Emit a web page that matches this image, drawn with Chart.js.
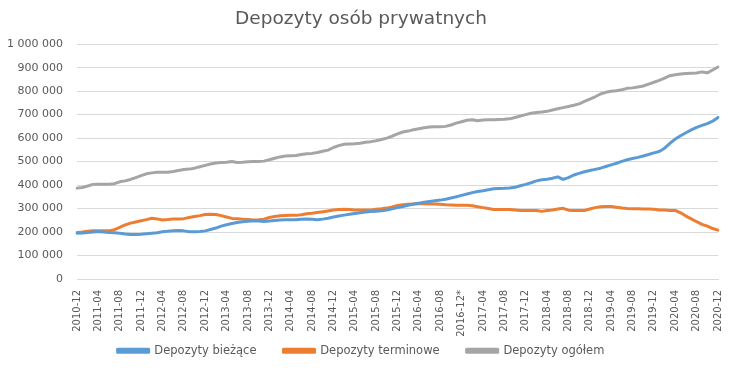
<!DOCTYPE html>
<html>
<head>
<meta charset="utf-8">
<script src="https://cdn.jsdelivr.net/npm/chart.js@4"></script>
<style>
  body { margin: 0; background: #fff; }
  #wrap { width: 739px; height: 372px; }
</style>
</head>
<body>
<div id="wrap"><canvas id="myChart"></canvas></div>
<script>
// monthly labels 2010-12 .. 2020-12 (2016-12 marked with *)
const months = [];
for (let y = 2010; y <= 2020; y++) {
  for (let m = 1; m <= 12; m++) {
    if (y === 2010 && m < 12) continue;
    let s = y + '-' + String(m).padStart(2, '0');
    if (s === '2016-12') s += '*';
    months.push(s);
  }
}

// values in thousands of PLN
const biezace = [
  195, 196, 198, 200, 202, 200, 198, 197, 195, 192, 190, 190,
  191, 193, 195, 197, 201, 203, 205, 207, 205, 201, 201, 202,
  205, 211, 217, 225, 231, 236, 241, 244, 246, 248, 247, 245,
  247, 249, 251, 252, 252, 252, 254, 256, 254, 252, 255, 259,
  264, 268, 272, 276, 279, 282, 285, 287, 289, 291, 294, 299,
  304, 309, 314, 319, 323, 327, 330, 333, 336, 340, 345, 350,
  356, 362, 368, 373, 376, 380, 384, 385, 386, 388, 391, 397,
  403, 410, 418, 423, 425, 429, 435, 424, 432, 443, 450, 457,
  462, 467, 472, 479, 486, 493, 501, 508, 513, 518, 524, 530,
  537, 543, 557, 578, 596, 610, 623, 635, 646, 654, 662, 672,
  688
];
const terminowe = [
  198, 200, 203, 206, 206, 206, 205, 210, 220, 230, 238, 243,
  248, 253, 259, 256, 251, 253, 256, 256, 257, 262, 266, 270,
  275, 276, 275, 270, 264, 258, 257, 255, 253, 251, 252, 255,
  262, 266, 269, 270, 271, 271, 274, 278, 280, 283, 286, 290,
  294, 296, 297, 296, 294, 294, 294, 294, 297, 299, 302, 307,
  313, 316, 318, 319, 320, 320, 319, 319, 318, 316, 315, 314,
  314, 314, 312, 308, 304, 300, 296, 296, 296, 296, 294, 292,
  292, 292, 292, 288, 292, 294, 298, 301, 293, 292, 292, 292,
  298, 304, 308, 309, 309, 306, 302, 300, 299, 299, 298, 298,
  297, 294, 294, 292, 292, 282, 268, 256, 244, 233, 225, 215,
  208
];
const ogolem = [
  387, 390, 396, 403, 404, 404, 404, 406, 414, 418, 424, 432,
  440, 448, 452, 455, 455, 455, 458, 462, 466, 468, 472, 478,
  484, 490, 494, 496, 497, 500, 496, 497, 499, 500, 500, 502,
  508, 514, 520, 524, 525, 526, 530, 533, 535, 539, 544, 549,
  560, 568, 574, 575, 576, 578, 582, 585, 589, 594, 600, 608,
  618, 626, 630, 636, 640, 644, 647, 648, 648, 650, 656, 664,
  670, 676, 678, 674, 677, 678, 678, 679, 680, 682, 688, 694,
  700, 706, 709, 711, 714, 720, 725, 730, 735, 740, 746, 756,
  766, 776, 788, 795, 800, 802, 806, 812, 814, 818, 822, 830,
  838, 846, 856, 866, 870, 873, 875, 876, 877, 882, 878, 890,
  903
];
const yTicks = [0, 100000, 200000, 300000, 400000, 500000, 600000, 700000, 800000, 900000, 1000000];

const txt = '#595959';
const fontFam = '"DejaVu Sans", sans-serif';
const k = v => v * 1000;

// legend keeps the wide gaps between items but takes less room in the layout,
// then its box is stretched upwards so it sits right under the rotated labels
const legendFix = {
  id: 'legendFix',
  beforeLayout(chart) {
    const lg = chart.legend;
    if (lg && !lg._fixed) {
      const fit = lg.fit;
      lg.fit = function () { fit.call(this); this.height = 35; };
      lg._fixed = true;
    }
  },
  afterLayout(chart) {
    const lg = chart.legend;
    lg.top -= 19;
    lg.height = lg.bottom - lg.top;
  }
};

const ctx = document.getElementById('myChart').getContext('2d');

new Chart(ctx, {
  type: 'line',
  data: {
    labels: months,
    datasets: [
      { label: 'Depozyty bieżące', data: biezace.map(k), borderColor: '#5b9bd5', backgroundColor: '#5b9bd5' },
      { label: 'Depozyty terminowe', data: terminowe.map(k), borderColor: '#ed7d31', backgroundColor: '#ed7d31' },
      { label: 'Depozyty ogółem', data: ogolem.map(k), borderColor: '#a5a5a5', backgroundColor: '#a5a5a5' },
    ]
  },
  plugins: [legendFix],
  options: {
    responsive: true,
    maintainAspectRatio: false,
    animation: false,
    elements: {
      point: { radius: 0 },
      line: { borderWidth: 3, tension: 0, borderCapStyle: 'round', borderJoinStyle: 'round' }
    },
    layout: { padding: { left: 4, right: 21, top: 4, bottom: 0 } },
    plugins: {
      title: {
        display: true,
        text: 'Depozyty osób prywatnych',
        color: txt,
        font: { family: fontFam, size: 18.5, weight: 'normal' },
        padding: { top: 4, bottom: 14 }
      },
      legend: {
        position: 'bottom',
        labels: {
          color: txt,
          font: { family: fontFam, size: 11.5 },
          boxWidth: 31,
          boxHeight: 3,
          padding: 27
        }
      },
      tooltip: { enabled: false }
    },
    scales: {
      x: {
        offset: false,
        grid: { display: false },
        border: { display: true, color: '#d9d9d9' },
        afterFit: s => { s.height = 58; },
        ticks: {
          color: txt,
          font: { family: fontFam, size: 10 },
          autoSkip: false,
          maxRotation: 90,
          minRotation: 90,
          padding: 3,
          callback: function (v, i) { return i % 4 === 0 ? this.getLabelForValue(v) : null; }
        }
      },
      y: {
        min: 0,
        max: 1000000,
        afterBuildTicks: s => { s.ticks = yTicks.map(v => ({ value: v })); },
        afterFit: s => { s.width = 73; },
        grid: { color: '#d9d9d9', drawTicks: false },
        border: { display: false },
        ticks: {
          color: txt,
          font: { family: fontFam, size: 11 },
          padding: 14,
          callback: v => String(v).replace(/\B(?=(\d{3})+(?!\d))/g, ' ')
        }
      }
    }
  }
});
</script>
</body>
</html>
